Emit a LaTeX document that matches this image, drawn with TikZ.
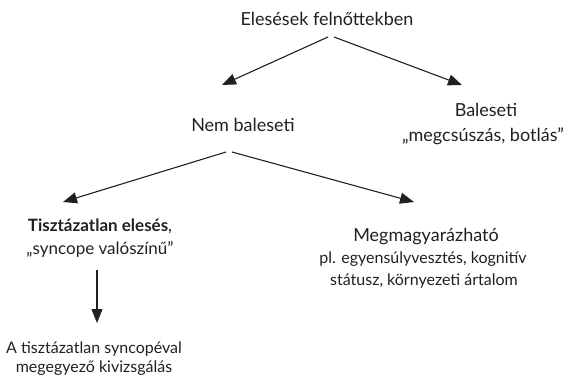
\documentclass[tikz,border=0pt]{standalone}
\usepackage{fontspec}
\setmainfont{Lato}
\usetikzlibrary{arrows.meta,calc}

\definecolor{ink}{HTML}{231F20}

\tikzset{
  txt/.style={anchor=base, inner sep=0pt, text=ink, font=\fontsize{18}{22}\selectfont},
  mid/.style={anchor=base, inner sep=0pt, text=ink, font=\fontsize{17}{21}\selectfont},
  sub/.style={anchor=base, inner sep=0pt, text=ink, font=\fontsize{16}{20}\selectfont},
  arr/.style={draw=ink, line width=1.1pt, -{Triangle[length=14pt,width=11pt]}}
}

\begin{document}
\begin{tikzpicture}[x=1pt,y=-1pt]
  \useasboundingbox (0,0) rectangle (569,377);

  % text blocks (placed at their baselines)
  \node[txt] (title) at (327,26)   {Elesések felnőttekben};
  \node[txt] (nem)   at (243,131)  {Nem baleseti};
  \node[txt] (bal)   at (486,117)  {Baleseti};
  \node[txt] (balq)  at (483,141)  {„megcsúszás, botlás”};
  \node[mid] (tisz)  at (100,231)  {\textbf{Tisztázatlan elesés},};
  \node[mid] (sync)  at (100,254)  {„syncope valószínű”};
  \node[sub] (atisz) at (94,353)   {A tisztázatlan syncopéval};
  \node[sub] (megv)  at (94,372)   {megegyező kivizsgálás};
  \node[txt] (megm)  at (426,241)  {Megmagyarázható};
  \node[sub] (pl)    at (423,263)  {pl. egyensúlyvesztés, kognitív};
  \node[sub] (stat)  at (424,285)  {státusz, környezeti ártalom};

  % connectors
  \draw[arr] ($(title.base)+(1,11)$)  -- ($(nem.base)+(-21,-46)$);
  \draw[arr] ($(title.base)+(7,11)$)  -- ($(bal.base)+(-24,-32)$);
  \draw[arr] ($(nem.base)+(-17,21)$)  -- ($(tisz.base)+(-37,-29)$);
  \draw[arr] ($(nem.base)+(-11,21)$)  -- ($(megm.base)+(-12,-39)$);
  \draw[arr] ($(sync.base)+(-3,16)$)  -- ($(atisz.base)+(3,-30)$);
\end{tikzpicture}
\end{document}
